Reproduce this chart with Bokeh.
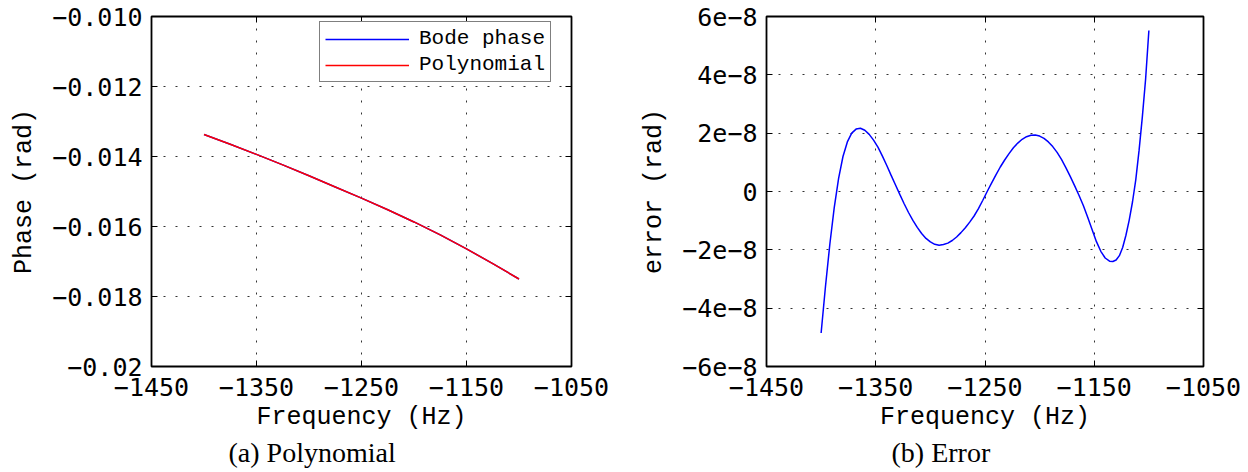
from bokeh.plotting import figure
from bokeh.layouts import row
from bokeh.models import Range1d, FixedTicker, Legend, LegendItem, Title, LinearAxis
from bokeh.embed import file_html
from bokeh.resources import INLINE

# ---------------- data ----------------
freq_phase = [-1400, -1375, -1350, -1325, -1300, -1275, -1250, -1225, -1200, -1175, -1150, -1125, -1100]
phase_bode = [-0.01337, -0.01365, -0.01394, -0.01424, -0.01455, -0.01487, -0.01519,
              -0.01552, -0.01587, -0.01624, -0.01664, -0.01706, -0.01750]
phase_poly = [-0.01337, -0.01365, -0.01394, -0.01424, -0.01455, -0.01487, -0.01519,
              -0.01552, -0.01587, -0.01624, -0.01664, -0.01706, -0.01750]

freq_err = [-1400, -1396, -1392, -1388, -1384, -1380, -1376, -1372, -1368, -1364,
            -1360, -1356, -1352, -1348, -1344, -1340, -1336, -1332, -1328, -1324,
            -1320, -1316, -1312, -1308, -1304, -1300, -1296, -1292, -1288, -1284,
            -1280, -1276, -1272, -1268, -1264, -1260, -1256, -1252, -1248, -1244,
            -1240, -1236, -1232, -1228, -1224, -1220, -1216, -1212, -1208, -1204,
            -1200, -1196, -1192, -1188, -1184, -1180, -1176, -1172, -1168, -1164,
            -1160, -1156, -1152, -1148, -1144, -1140, -1136, -1133, -1130, -1127,
            -1124, -1121, -1118, -1115, -1112, -1109, -1106, -1103, -1100]
err_e8 = [-4.85, -3.25, -1.80, -0.55, 0.45, 1.20, 1.70, 2.00, 2.14, 2.17,
          2.10, 1.96, 1.76, 1.52, 1.22, 0.90, 0.56, 0.23, -0.10, -0.42,
          -0.72, -0.99, -1.23, -1.44, -1.61, -1.73, -1.81, -1.84, -1.82, -1.77,
          -1.68, -1.56, -1.41, -1.24, -1.05, -0.84, -0.59, -0.30, 0.00, 0.29,
          0.57, 0.84, 1.08, 1.30, 1.50, 1.66, 1.79, 1.88, 1.93, 1.94,
          1.90, 1.82, 1.70, 1.54, 1.34, 1.10, 0.82, 0.52, 0.20, -0.13,
          -0.48, -0.88, -1.30, -1.72, -2.05, -2.28, -2.39, -2.40, -2.35, -2.20,
          -1.92, -1.50, -0.98, -0.36, 0.40, 1.40, 2.55, 3.85, 5.52]
err = [v * 1e-8 for v in err_e8]

x_ticks = [-1450, -1350, -1250, -1150, -1050]
x_tick_labels = ["\u22121450", "\u22121350", "\u22121250", "\u22121150", "\u22121050"]
phase_ticks = [-0.02, -0.018, -0.016, -0.014, -0.012, -0.01]
phase_tick_labels = ["\u22120.02", "\u22120.018", "\u22120.016", "\u22120.014", "\u22120.012", "\u22120.010"]
err_ticks = [-6e-8, -4e-8, -2e-8, 0, 2e-8, 4e-8, 6e-8]
err_tick_labels = ["\u22126e\u22128", "\u22124e\u22128", "\u22122e\u22128", "0", "2e\u22128", "4e\u22128", "6e\u22128"]

TICK_FONT = "DejaVu Sans Mono"
LABEL_FONT = "Liberation Mono"
CAP_FONT = "Liberation Serif"


def style(p, yticks, ylabels, ylabel):
    p.outline_line_color = "black"
    p.outline_line_width = 1.8
    p.background_fill_color = "white"
    p.border_fill_color = "white"
    p.xaxis.ticker = FixedTicker(ticks=x_ticks)
    p.xaxis.major_label_overrides = dict(zip(x_ticks, x_tick_labels))
    p.yaxis.ticker = FixedTicker(ticks=yticks)
    p.yaxis.major_label_overrides = dict(zip(yticks, ylabels))
    for ax in (p.xaxis, p.yaxis):
        ax.major_label_text_font = TICK_FONT
        ax.major_label_text_font_size = "25px"
        ax.major_label_text_color = "black"
        ax.axis_label_text_font = LABEL_FONT
        ax.axis_label_text_font_size = "25px"
        ax.axis_label_text_font_style = "normal"
        ax.axis_label_text_color = "black"
        ax.major_tick_in = 6
        ax.major_tick_out = 0
        ax.minor_tick_line_color = None
        ax.axis_line_color = "black"
        ax.major_tick_line_color = "black"
    p.xaxis.major_label_standoff = 11
    p.yaxis.major_label_standoff = 9
    p.xaxis.axis_label = "Frequency (Hz)"
    p.yaxis.axis_label = ylabel
    p.xaxis.axis_label_standoff = 4
    p.yaxis.axis_label_standoff = 10
    # mirror ticks on top / right
    top = LinearAxis(ticker=FixedTicker(ticks=x_ticks), major_tick_in=6, major_tick_out=0,
                     minor_tick_line_color=None, major_label_overrides={t: "" for t in x_ticks})
    right = LinearAxis(ticker=FixedTicker(ticks=yticks), major_tick_in=6, major_tick_out=0,
                       minor_tick_line_color=None, major_label_overrides={t: "" for t in yticks})
    p.add_layout(top, "above")
    p.add_layout(right, "right")
    for g in (p.xgrid, p.ygrid):
        g.grid_line_color = "black"
        g.grid_line_dash = "2 10"
        g.grid_line_width = 1
        g.grid_line_alpha = 0.8


# ---------------- left: Polynomial ----------------
p1 = figure(width=620, height=472, output_backend="svg", toolbar_location=None,
            x_range=Range1d(-1450, -1050), y_range=Range1d(-0.02, -0.01),
            min_border_left=151, min_border_right=49, min_border_top=10, min_border_bottom=105)
style(p1, phase_ticks, phase_tick_labels, "Phase (rad)")
r_bode = p1.line(freq_phase, phase_bode, line_color="#0000ff", line_width=1.5)
r_poly = p1.line(freq_phase, phase_poly, line_color="#ff0000", line_width=1.5)
legend = Legend(items=[LegendItem(label="Bode phase", renderers=[r_bode]),
                       LegendItem(label="Polynomial", renderers=[r_poly])],
                location=(168, 284), orientation="vertical",
                label_text_font=LABEL_FONT, label_text_font_size="21px", label_text_color="black",
                glyph_width=84, glyph_height=20, label_height=20, label_standoff=10,
                spacing=3, padding=5, margin=0,
                border_line_color="black", border_line_width=1.5,
                background_fill_color="white", background_fill_alpha=1.0)
p1.add_layout(legend, "center")
p1.add_layout(Title(text="(a) Polynomial", align="left", offset=77, standoff=0,
                    text_font=CAP_FONT, text_font_size="28px", text_font_style="normal",
                    text_color="black"), "below")

# ---------------- right: Error ----------------
p2 = figure(width=628, height=472, output_backend="svg", toolbar_location=None,
            x_range=Range1d(-1450, -1050), y_range=Range1d(-6e-8, 6e-8),
            min_border_left=146, min_border_right=45, min_border_top=16, min_border_bottom=106)
style(p2, err_ticks, err_tick_labels, "error (rad)")
p2.line(freq_err, err, line_color="#0000ff", line_width=1.5)
p2.add_layout(Title(text="(b) Error", align="left", offset=125, standoff=0,
                    text_font=CAP_FONT, text_font_size="28px", text_font_style="normal",
                    text_color="black"), "below")

layout = row(p1, p2, spacing=0)
open("out.html", "w").write(file_html(layout, INLINE))
